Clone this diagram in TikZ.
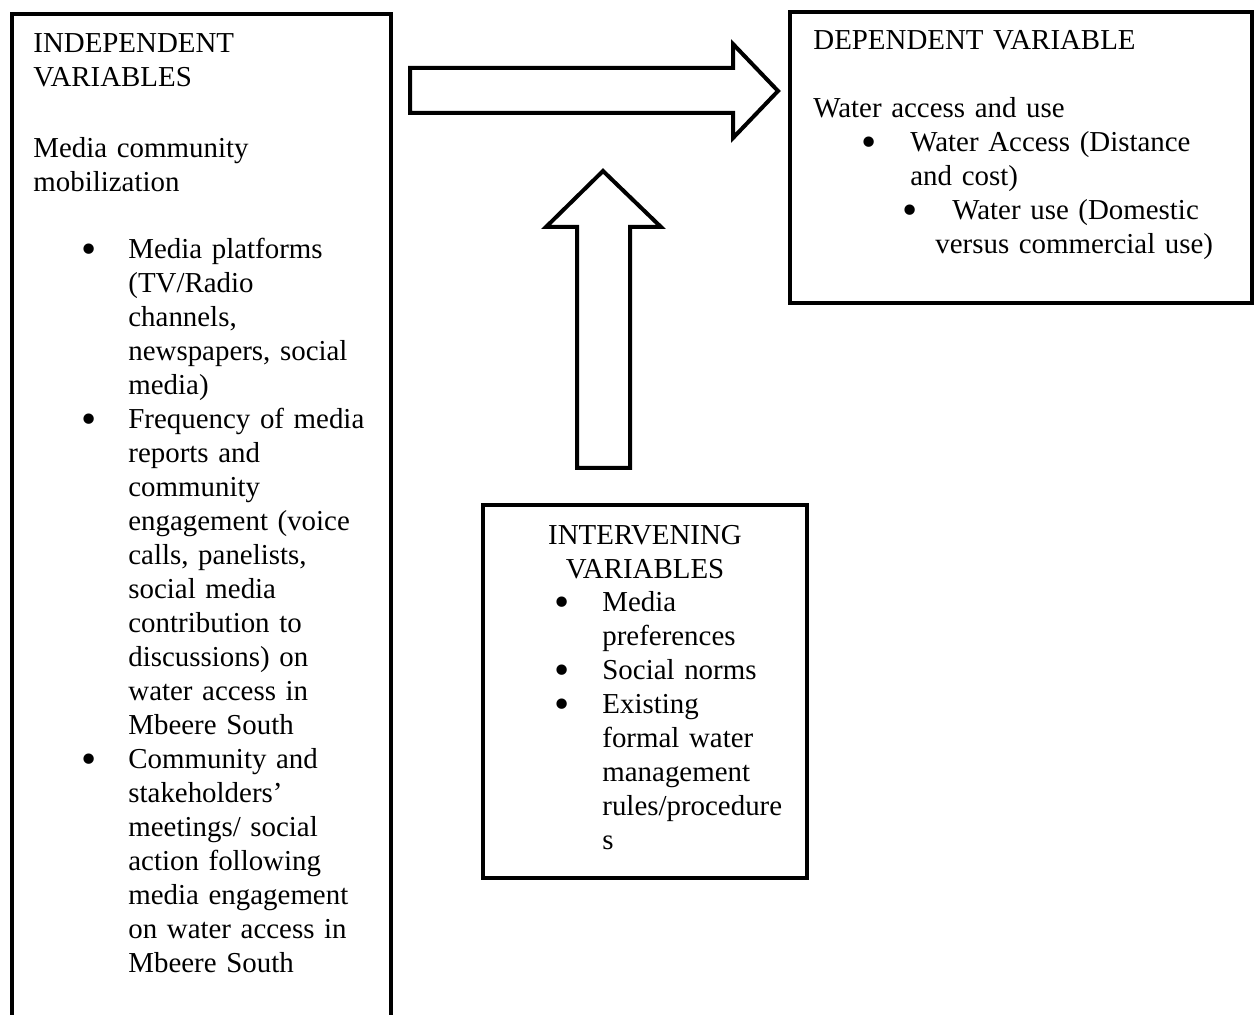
\documentclass[tikz,border=0pt]{standalone}
\usepackage{fontspec}
\setmainfont{Liberation Serif}
\usetikzlibrary{positioning}
\tikzstyle{varbox} = [rectangle, draw=black, line width=2.2pt, anchor=north west, inner sep=0pt, outer sep=0pt]
\tikzstyle{vartext} = [anchor=base west, align=left, inner sep=0pt, font=\fontsize{14.45pt}{17pt}\selectfont]
\tikzstyle{blockarrow} = [draw=black, line width=2pt, fill=white, line join=miter]
\newcommand{\bigbul}{\smash{\raisebox{-2.2pt}{\scalebox{1.5}{\textbullet}}}}
\newcommand{\bul}[2]{\hspace*{#1}\makebox[#2][l]{\bigbul}}
\newcommand{\ind}[1]{\hspace*{#1}}

\begin{document}
\begin{tikzpicture}[x=0.5pt, y=-0.5pt]
\useasboundingbox (0,0) rectangle (1254,1015);

% boxes
\node (indep) [varbox, minimum width=189.5pt, minimum height=508pt] at (12,14) {};
\node (dep) [varbox, minimum width=231pt, minimum height=145.5pt] at (790,12) {};
\node (intv) [varbox, minimum width=162pt, minimum height=186.5pt] at (483,505) {};

\node (indeptext) [vartext, text width=180pt] at (33,53) {
INDEPENDENT\\
VARIABLES\\[18.5pt]
Media community\\
mobilization\\[16.5pt]
\bul{24pt}{23.5pt}Media platforms\\
\ind{47.5pt}(TV/Radio\\
\ind{47.5pt}channels,\\
\ind{47.5pt}newspapers, social\\
\ind{47.5pt}media)\\
\bul{24pt}{23.5pt}Frequency of media\\
\ind{47.5pt}reports and\\
\ind{47.5pt}community\\
\ind{47.5pt}engagement (voice\\
\ind{47.5pt}calls, panelists,\\
\ind{47.5pt}social media\\
\ind{47.5pt}contribution to\\
\ind{47.5pt}discussions) on\\
\ind{47.5pt}water access in\\
\ind{47.5pt}Mbeere South\\
\bul{24pt}{23.5pt}Community and\\
\ind{47.5pt}stakeholders’\\
\ind{47.5pt}meetings/ social\\
\ind{47.5pt}action following\\
\ind{47.5pt}media engagement\\
\ind{47.5pt}on water access in\\
\ind{47.5pt}Mbeere South};

\node (deptext) [vartext, text width=215pt] at (813,50) {
DEPENDENT VARIABLE\\[17pt]
Water access and use\\
\bul{24pt}{24.5pt}Water Access (Distance\\
\ind{48.5pt}and cost)\\
\bul{44.5pt}{25pt}Water use (Domestic\\
\ind{61pt}versus commercial use)};

\node (intvtitle) [vartext, anchor=base, text width=110pt, align=center] at (645,545) {
INTERVENING\\
VARIABLES};
\node (intvlist) [vartext, text width=125pt] at (554,612) {
\bul{0pt}{24pt}Media\\
\ind{24pt}preferences\\
\bul{0pt}{24pt}Social norms\\
\bul{0pt}{24pt}Existing\\
\ind{24pt}formal water\\
\ind{24pt}management\\
\ind{24pt}rules/procedure\\
\ind{24pt}s};

% block arrows
\draw[blockarrow] (410,68) -- (733,68) -- (733,44) -- (778,91) -- (733,138) -- (733,113) -- (410,113) -- cycle;
\draw[blockarrow] (577,468) -- (577,227) -- (546,227) -- (603,171) -- (661,227) -- (630,227) -- (630,468) -- cycle;

\end{tikzpicture}
\end{document}
